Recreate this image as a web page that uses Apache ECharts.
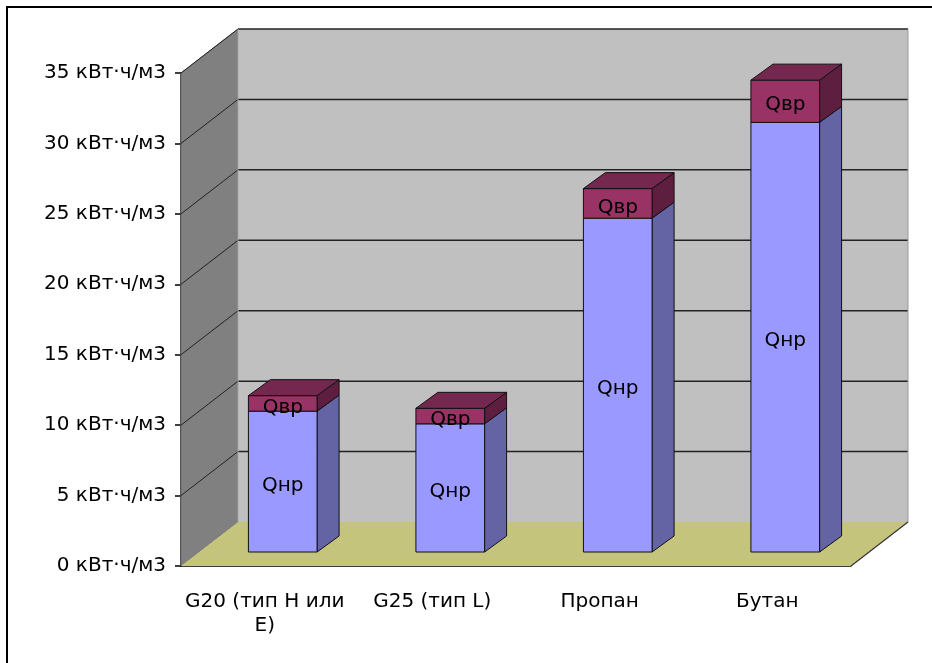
<!DOCTYPE html>
<html>
<head>
<meta charset="utf-8">
<script src="https://cdn.jsdelivr.net/npm/echarts@6/dist/echarts.min.js"></script>
<style>
html,body{margin:0;padding:0;background:#fff;}
#chart{width:932px;height:663px;}
</style>
</head>
<body>
<div id="chart"></div>
<script>
// ---- data ----
const categories = ['G20 (тип H или\nE)', 'G25 (тип L)', 'Пропан', 'Бутан'];
const qnr = [10.0, 9.1, 23.7, 30.5];   // Qнр
const qvr = [1.1, 1.1, 2.1, 3.0];      // Qвр
const yTicks = [0, 5, 10, 15, 20, 25, 30, 35];
const unit = ' кВт·ч/м3';

// ---- 3D look (pixels) ----
const DX = 57, DY = -44;        // full depth of the box
const FX = 18, FY = -14;        // bar front offset into depth
const BDX = 22, BDY = -16;      // bar depth
const BAR_W = 0.41;             // fraction of category band
const FONT = '"DejaVu Sans", "Liberation Sans", Arial, sans-serif';

const chart = echarts.init(document.getElementById('chart'));

function wallsRender(params, api) {
  const cs = params.coordSys;
  const x0 = cs.x, x1 = cs.x + cs.width;
  const yB = api.coord([0, yTicks[0]])[1];
  const yT = api.coord([0, yTicks[yTicks.length - 1]])[1];
  const children = [];
  children.push({type:'polygon', shape:{points:[[x0,yB],[x0,yT],[x0+DX,yT+DY],[x0+DX,yB+DY]]},
    style:{fill:'#808080', stroke:'#6a6a6a', lineWidth:1}});
  children.push({type:'rect', shape:{x:x0+DX, y:yT+DY, width:x1-x0, height:yB-yT},
    style:{fill:'#c0c0c0', stroke:null}});
  children.push({type:'polygon', shape:{points:[[x0,yB],[x1,yB],[x1+DX,yB+DY],[x0+DX,yB+DY]]},
    style:{fill:'#c4c47c', stroke:null}});
  yTicks.forEach(function (t, k) {
    const y = api.coord([0, t])[1];
    if (k > 0) {
      children.push({type:'line', shape:{x1:x0, y1:y, x2:x0+DX, y2:y+DY},
        style:{stroke:'#222', lineWidth:1}});
      children.push({type:'line', shape:{x1:x0+DX, y1:y+DY, x2:x1+DX, y2:y+DY},
        style:{stroke:'#222', lineWidth:1.5}});
    }
  });
  children.push({type:'line', shape:{x1:x1+DX, y1:yT+DY, x2:x1+DX, y2:yB+DY},
    style:{stroke:'#9a9a9a', lineWidth:1}});
  children.push({type:'line', shape:{x1:x1, y1:yB, x2:x1+DX, y2:yB+DY},
    style:{stroke:'#333', lineWidth:1.2}});
  children.push({type:'line', shape:{x1:x0+DX, y1:yT+DY, x2:x0+DX, y2:yB+DY},
    style:{stroke:'#a8a8a8', lineWidth:1}});
  return {type:'group', children:children};
}

function makeBarRender(front, side, top, label, withTop) {
  return function (params, api) {
    const i = api.value(0);
    const base = api.value(1), val = api.value(2);
    const c0 = api.coord([i, base]);
    const c1 = api.coord([i, val]);
    const bw = api.size([1, 0])[0] * BAR_W;
    const left = c0[0] - bw / 2 + FX, right = left + bw;
    const y0 = c0[1] + FY, y1 = c1[1] + FY;
    const st = {stroke:'#111', lineWidth:1, lineJoin:'round'};
    const children = [
      {type:'polygon', shape:{points:[[right,y0],[right,y1],[right+BDX,y1+BDY],[right+BDX,y0+BDY]]},
        style:Object.assign({fill:side}, st)},
      {type:'rect', shape:{x:left, y:y1, width:bw, height:y0-y1},
        style:Object.assign({fill:front}, st)}
    ];
    if (withTop) {
      children.push({type:'polygon', shape:{points:[[left,y1],[right,y1],[right+BDX,y1+BDY],[left+BDX,y1+BDY]]},
        style:Object.assign({fill:top}, st)});
    }
    children.push({type:'text', style:{text:label, x:(left+right)/2, y:(y0+y1)/2 + 4,
      align:'center', verticalAlign:'middle', font:'20px ' + FONT, fill:'#000'}});
    return {type:'group', children:children};
  };
}

const option = {
  animation: false,
  graphic: [{type:'rect', shape:{x:7, y:7, width:940, height:670},
    style:{fill:null, stroke:'#000', lineWidth:2}, z:100}],
  grid: {left:181, right:81, top:73, bottom:97},
  xAxis: {
    type:'category', data:categories,
    axisLine:{lineStyle:{color:'#000', width:1.5}},
    axisTick:{length:8, lineStyle:{color:'#000', width:1.5}},
    axisLabel:{color:'#000', fontSize:20, fontFamily:FONT, margin:24, lineHeight:24, interval:0}
  },
  yAxis: {
    type:'value', min:0, max:35, interval:5,
    axisLine:{show:true, lineStyle:{color:'#000', width:1.5}},
    axisTick:{show:true, length:6, lineStyle:{color:'#000', width:1.5}},
    splitLine:{show:false},
    axisLabel:{color:'#000', fontSize:20, fontFamily:FONT, margin:15,
      formatter:function (v) { return v + unit; }}
  },
  series: [
    {type:'custom', name:'walls', renderItem:wallsRender, data:[[0, 0]], z:1, silent:true},
    {type:'custom', name:'Qнр', renderItem:makeBarRender('#9999ff', '#6464a4', '#7c7cd0', 'Qнр', false),
      data: qnr.map(function (v, i) { return [i, 0, v]; }), z:2},
    {type:'custom', name:'Qвр', renderItem:makeBarRender('#993366', '#5e1e3f', '#74284f', 'Qвр', true),
      data: qvr.map(function (v, i) { return [i, qnr[i], qnr[i] + v]; }), z:3}
  ]
};
chart.setOption(option);
</script>
</body>
</html>
